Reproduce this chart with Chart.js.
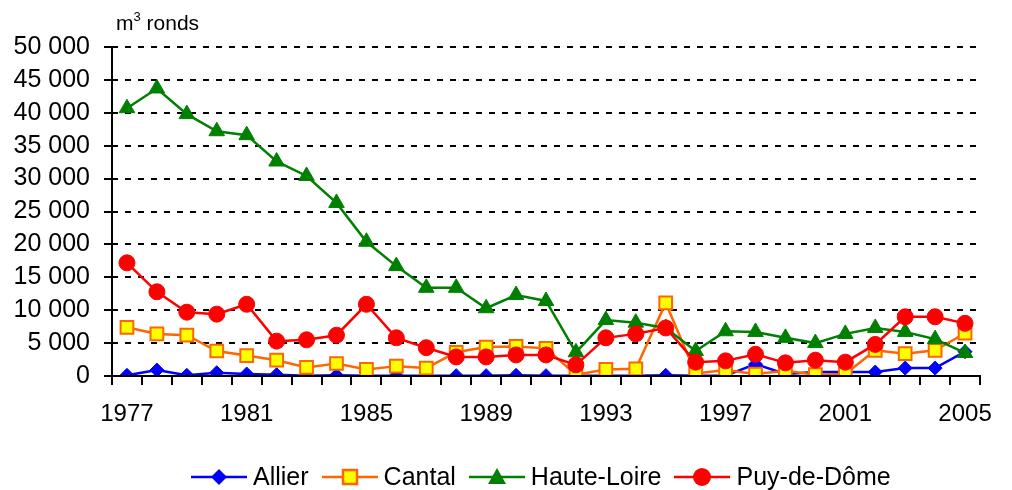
<!DOCTYPE html>
<html>
<head>
<meta charset="utf-8">
<script src="https://cdn.jsdelivr.net/npm/chart.js@4/dist/chart.umd.min.js"></script>
<style>
  html, body { margin: 0; padding: 0; background: #fff; }
  #wrap { position: relative; width: 1012px; height: 490px; font-family: "Liberation Sans", Arial, sans-serif; }
  #unit { position: absolute; left: 116px; top: 11px; font-size: 21px; color: #000; }
  #unit sup { font-size: 13px; vertical-align: 9px; line-height: 0; }
  #legend { position: absolute; left: 191px; top: 462px; display: flex; align-items: center; font-size: 25px; color: #000; white-space: nowrap; }
  .item { display: flex; align-items: center; margin-right: 13px; }
  .item svg { margin-right: 6px; }
</style>
</head>
<body>
<div id="wrap">
  <canvas id="chart"></canvas>
  <div id="unit">m<sup>3</sup> ronds</div>
  <div id="legend"></div>
</div>
<script>
"use strict";

const YEARS = [
  "1977", "1978", "1979", "1980", "1981", "1982", "1983", "1984", "1985", "1986",
  "1987", "1988", "1989", "1990", "1991", "1992", "1993", "1994", "1995", "1996",
  "1997", "1998", "1999", "2000", "2001", "2002", "2003", "2004", "2005",
];

const ALLIER = [
  100, 900, 100, 500, 300, 200, 50, 100, 50, 50,
  50, 50, 50, 100, 50, 50, 50, 50, 100, 50,
  50, 1800, 300, 600, 600, 600, 1200, 1200, 3700,
];
const CANTAL = [
  7400, 6400, 6200, 3800, 3100, 2400, 1300, 1900, 1000, 1500,
  1200, 3600, 4400, 4500, 4200, 200, 1000, 1100, 11100, 400,
  900, 300, 800, 200, 300, 3900, 3400, 3900, 6500,
];
const HAUTE_LOIRE = [
  40700, 43700, 39800, 37200, 36600, 32600, 30400, 26300, 20400, 16700,
  13400, 13400, 10300, 12300, 11400, 3600, 8500, 8100, 7300, 3800,
  6800, 6700, 5800, 5000, 6400, 7300, 6700, 5600, 3500,
];
const PUY_DE_DOME = [
  17200, 12800, 9700, 9400, 10900, 5300, 5500, 6200, 10900, 5800,
  4300, 2900, 2900, 3200, 3200, 1700, 5800, 6400, 7300, 2100,
  2300, 3300, 2000, 2400, 2100, 4800, 9000, 9000, 8000,
];

const Y_MIN = 0;
const Y_MAX = 50000;
const Y_STEP = 5000;

// name, data, line colour, marker, fill, order (lower = on top)
const SERIES = [
  { name: "Allier", data: ALLIER, color: "#0000ff", fill: "#0000ff", style: "rectRot", r: 7, order: 4 },
  { name: "Cantal", data: CANTAL, color: "#ff6600", fill: "#ffff00", style: "rect", r: 9, order: 3 },
  { name: "Haute-Loire", data: HAUTE_LOIRE, color: "#008000", fill: "#008000", style: "triangle", r: 9, order: 2 },
  { name: "Puy-de-Dôme", data: PUY_DE_DOME, color: "#ff0000", fill: "#ff0000", style: "circle", r: 8, order: 1 },
];

function fmtThousands(v) {
  return String(v).replace(/\B(?=(\d{3})+(?!\d))/g, " ");
}

// solid y axis line + ticks crossing it, like the original
const crossTicks = {
  id: "crossTicks",
  afterDatasetsDraw(chart) {
    const y = chart.scales.y;
    const { left, top, bottom } = chart.chartArea;
    const ctx = chart.ctx;
    ctx.save();
    ctx.setLineDash([]);
    ctx.strokeStyle = "#000";
    ctx.lineWidth = 2;
    ctx.beginPath();
    ctx.moveTo(left, top);
    ctx.lineTo(left, bottom);
    for (let v = Y_MIN; v <= Y_MAX; v += Y_STEP) {
      const py = Math.round(y.getPixelForValue(v));
      ctx.moveTo(left - 8, py);
      ctx.lineTo(left + 5, py);
    }
    ctx.stroke();
    ctx.restore();
  },
};

const datasets = SERIES.map((s) => ({
  label: s.name,
  data: s.data,
  borderColor: s.color,
  backgroundColor: s.fill,
  borderWidth: 2.5,
  pointStyle: s.style,
  pointRadius: s.r,
  pointHoverRadius: s.r,
  pointBorderWidth: s.style === "rect" ? 2 : 1,
  pointBorderColor: s.color,
  pointBackgroundColor: s.fill,
  tension: 0,
  order: s.order,
}));

new Chart(document.getElementById("chart"), {
  type: "line",
  data: { labels: YEARS, datasets },
  options: {
    responsive: true,
    maintainAspectRatio: false,
    animation: false,
    events: [],
    layout: { padding: { left: 0, right: 32, top: 47, bottom: 0 } },
    plugins: { legend: { display: false }, tooltip: { enabled: false } },
    scales: {
      x: {
        type: "category",
        offset: true,
        afterFit: (s) => { s.height = 114; },
        grid: { display: true, drawOnChartArea: false, drawTicks: true, tickLength: 9, color: "#000", lineWidth: 2, offset: true },
        border: { display: true, color: "#000", width: 2, z: 1 },
        ticks: {
          autoSkip: false, maxRotation: 0, minRotation: 0, padding: 15,
          color: "#000", font: { family: "Liberation Sans", size: 24 },
          callback: (v, i) => (i % 4 === 0 ? YEARS[i] : ""),
        },
      },
      y: {
        min: Y_MIN,
        max: Y_MAX,
        afterFit: (s) => { s.width = 112; },
        grid: { color: "#000", lineWidth: 2, drawTicks: false },
        border: { display: false, dash: [6, 7] },
        ticks: {
          stepSize: Y_STEP, autoSkip: false, padding: 22, color: "#000",
          font: { family: "Liberation Sans", size: 25, lineHeight: 1 },
          callback: (v) => fmtThousands(v),
        },
      },
    },
  },
  plugins: [crossTicks],
});

// legend: line + marker, built from SERIES
function markerSvg(s) {
  const c = 10;
  let shape = "";
  if (s.style === "rectRot") shape = `<polygon points="28,${c - 8} 36,${c} 28,${c + 8} 20,${c}" fill="${s.fill}"/>`;
  else if (s.style === "rect") shape = `<rect x="21" y="${c - 7}" width="14" height="14" fill="${s.fill}" stroke="${s.color}" stroke-width="2.5"/>`;
  else if (s.style === "triangle") shape = `<polygon points="28,${c - 9} 37,${c + 7} 19,${c + 7}" fill="${s.fill}"/>`;
  else shape = `<circle cx="28" cy="${c}" r="9" fill="${s.fill}"/>`;
  return `<svg width="56" height="20" viewBox="0 0 56 20"><line x1="0" y1="${c}" x2="56" y2="${c}" stroke="${s.color}" stroke-width="2.5"/>${shape}</svg>`;
}

const legend = document.getElementById("legend");
for (const s of SERIES) {
  const it = document.createElement("span");
  it.className = "item";
  it.innerHTML = markerSvg(s);
  const t = document.createElement("span");
  t.textContent = s.name;
  it.appendChild(t);
  legend.appendChild(it);
}
</script>
</body>
</html>
